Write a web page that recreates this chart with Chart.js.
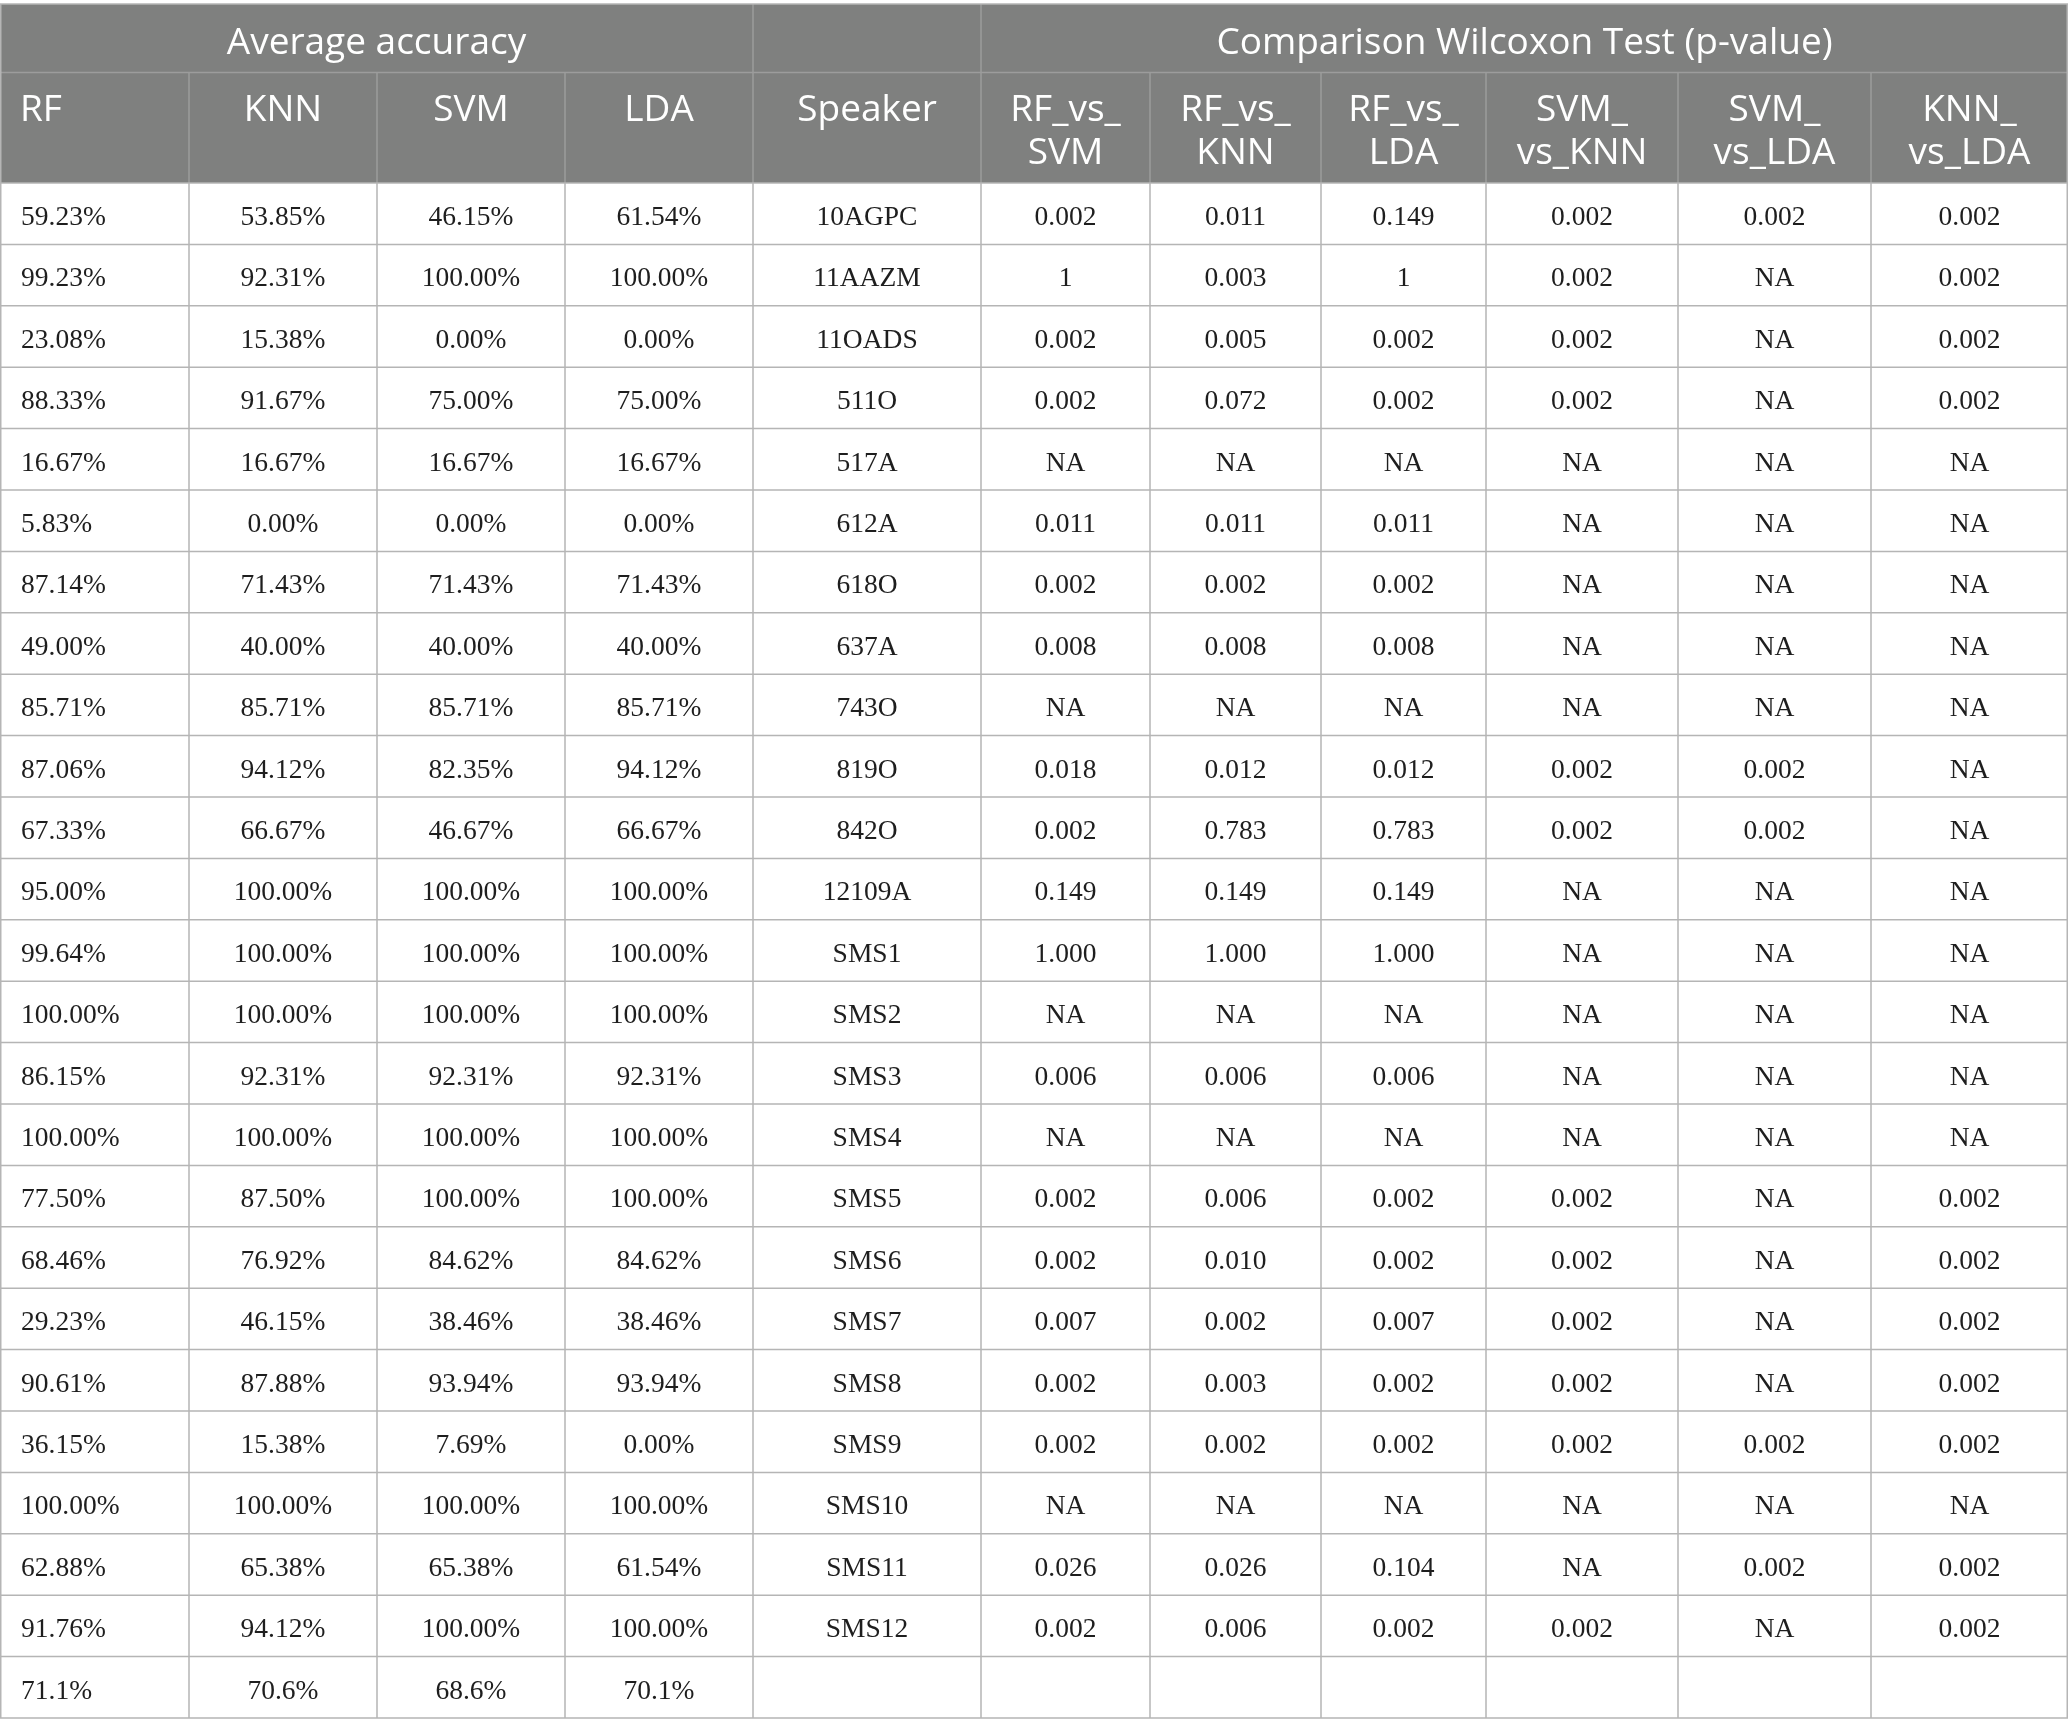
<!DOCTYPE html>
<html>
<head>
<meta charset="utf-8">
<script src="https://cdn.jsdelivr.net/npm/chart.js@4.4.1/dist/chart.umd.min.js"></script>
<style>
  html, body { margin: 0; padding: 0; background: #ffffff; }
  #table { display: block; }
</style>
</head>
<body>
<canvas id="table" width="2068" height="1735"></canvas>
<script>
// ========== DADOS ==========
const groupTitles = ["Average accuracy", "", "Comparison Wilcoxon Test (p-value)"];
const columnTitles = [
  ["RF"], ["KNN"], ["SVM"], ["LDA"], ["Speaker"],
  ["RF_vs_", "SVM"], ["RF_vs_", "KNN"], ["RF_vs_", "LDA"],
  ["SVM_", "vs_KNN"], ["SVM_", "vs_LDA"], ["KNN_", "vs_LDA"],
];

const speakers = [
  "10AGPC", "11AAZM", "11OADS", "511O", "517A", "612A", "618O", "637A",
  "743O", "819O", "842O", "12109A", "SMS1", "SMS2", "SMS3", "SMS4",
  "SMS5", "SMS6", "SMS7", "SMS8", "SMS9", "SMS10", "SMS11", "SMS12",
];

const rfAcc = [59.23, 99.23, 23.08, 88.33, 16.67, 5.83, 87.14, 49.0, 85.71, 87.06, 67.33, 95.0,
  99.64, 100, 86.15, 100, 77.5, 68.46, 29.23, 90.61, 36.15, 100, 62.88, 91.76];
const knnAcc = [53.85, 92.31, 15.38, 91.67, 16.67, 0, 71.43, 40.0, 85.71, 94.12, 66.67, 100,
  100, 100, 92.31, 100, 87.5, 76.92, 46.15, 87.88, 15.38, 100, 65.38, 94.12];
const svmAcc = [46.15, 100, 0, 75.0, 16.67, 0, 71.43, 40.0, 85.71, 82.35, 46.67, 100,
  100, 100, 92.31, 100, 100, 84.62, 38.46, 93.94, 7.69, 100, 65.38, 100];
const ldaAcc = [61.54, 100, 0, 75.0, 16.67, 0, 71.43, 40.0, 85.71, 94.12, 66.67, 100,
  100, 100, 92.31, 100, 100, 84.62, 38.46, 93.94, 0, 100, 61.54, 100];
// linha final: médias gerais
const meanAcc = [71.1, 70.6, 68.6, 70.1];

const rfVsSvm = ["0.002", "1", "0.002", "0.002", "NA", "0.011", "0.002", "0.008", "NA", "0.018", "0.002", "0.149",
  "1.000", "NA", "0.006", "NA", "0.002", "0.002", "0.007", "0.002", "0.002", "NA", "0.026", "0.002"];
const rfVsKnn = ["0.011", "0.003", "0.005", "0.072", "NA", "0.011", "0.002", "0.008", "NA", "0.012", "0.783", "0.149",
  "1.000", "NA", "0.006", "NA", "0.006", "0.010", "0.002", "0.003", "0.002", "NA", "0.026", "0.006"];
const rfVsLda = ["0.149", "1", "0.002", "0.002", "NA", "0.011", "0.002", "0.008", "NA", "0.012", "0.783", "0.149",
  "1.000", "NA", "0.006", "NA", "0.002", "0.002", "0.007", "0.002", "0.002", "NA", "0.104", "0.002"];
const svmVsKnn = ["0.002", "0.002", "0.002", "0.002", "NA", "NA", "NA", "NA", "NA", "0.002", "0.002", "NA",
  "NA", "NA", "NA", "NA", "0.002", "0.002", "0.002", "0.002", "0.002", "NA", "NA", "0.002"];
const svmVsLda = ["0.002", "NA", "NA", "NA", "NA", "NA", "NA", "NA", "NA", "0.002", "0.002", "NA",
  "NA", "NA", "NA", "NA", "NA", "NA", "NA", "NA", "0.002", "NA", "0.002", "NA"];
const knnVsLda = ["0.002", "0.002", "0.002", "0.002", "NA", "NA", "NA", "NA", "NA", "NA", "NA", "NA",
  "NA", "NA", "NA", "NA", "0.002", "0.002", "0.002", "0.002", "0.002", "NA", "0.002", "0.002"];

// ========== LAYOUT (unidades da escala) ==========
const COL_EDGES = [0, 189, 377, 565, 753, 981, 1150, 1321, 1486, 1678, 1871, 2068];
const GROUP_SPANS = [[0, 4], [4, 5], [5, 11]]; // colunas cobertas por cada título de grupo
const TOP = 4;
const HEAD1_BOTTOM = 72.5;
const HEAD2_BOTTOM = 183;
const ROW_H = 61.4;

const HEADER_BG = "#7f807f";
const HEADER_LINE = "#9c9c9c";
const GRID_LINE = "#b5b5b5";
const TEXT_DARK = "#1e1e1e";
const SANS = "'Open Sans', 'Noto Sans', sans-serif";
const SERIF = "'Liberation Serif', 'DejaVu Serif', serif";

// monta as linhas da tabela a partir dos arrays
const pct = (v, d) => v.toFixed(d) + "%";
const rows = speakers.map((s, i) => [
  pct(rfAcc[i], 2), pct(knnAcc[i], 2), pct(svmAcc[i], 2), pct(ldaAcc[i], 2), s,
  rfVsSvm[i], rfVsKnn[i], rfVsLda[i], svmVsKnn[i], svmVsLda[i], knnVsLda[i],
]);
rows.push([...meanAcc.map((v) => pct(v, 1)), "", "", "", "", "", "", ""]);

const TABLE_BOTTOM = HEAD2_BOTTOM + rows.length * ROW_H;

// ========== PLUGIN DA TABELA ==========
const tablePlugin = {
  id: "tablePlugin",
  afterDraw(chart) {
    const { ctx } = chart;
    const xs = chart.scales.x;
    const ys = chart.scales.y;
    const px = (v) => xs.getPixelForValue(v);
    const py = (v) => ys.getPixelForValue(v);

    ctx.save();

    // fundo do cabeçalho
    ctx.fillStyle = HEADER_BG;
    ctx.fillRect(px(0), py(TOP), px(2068) - px(0), py(HEAD2_BOTTOM) - py(TOP));

    // linhas do cabeçalho
    ctx.strokeStyle = HEADER_LINE;
    ctx.lineWidth = 1.5;
    ctx.beginPath();
    ctx.moveTo(px(0), py(HEAD1_BOTTOM));
    ctx.lineTo(px(2068), py(HEAD1_BOTTOM));
    GROUP_SPANS.slice(1).forEach(([a]) => {
      ctx.moveTo(px(COL_EDGES[a]), py(TOP));
      ctx.lineTo(px(COL_EDGES[a]), py(HEAD1_BOTTOM));
    });
    COL_EDGES.slice(1, -1).forEach((e) => {
      ctx.moveTo(px(e), py(HEAD1_BOTTOM));
      ctx.lineTo(px(e), py(HEAD2_BOTTOM));
    });
    ctx.stroke();

    // grade da área de dados
    ctx.strokeStyle = GRID_LINE;
    ctx.beginPath();
    ctx.moveTo(px(0), py(TOP));
    ctx.lineTo(px(2068), py(TOP));
    for (let r = 0; r <= rows.length; r++) {
      const y = py(HEAD2_BOTTOM + r * ROW_H);
      ctx.moveTo(px(0), y);
      ctx.lineTo(px(2068), y);
    }
    COL_EDGES.forEach((e, i) => {
      const x = i === 0 ? px(e) + 0.75 : i === COL_EDGES.length - 1 ? px(e) - 0.75 : px(e);
      ctx.moveTo(x, i === 0 || i === COL_EDGES.length - 1 ? py(TOP) : py(HEAD2_BOTTOM));
      ctx.lineTo(x, py(TABLE_BOTTOM));
    });
    ctx.stroke();

    // títulos de grupo
    ctx.fillStyle = "#ffffff";
    ctx.font = `37px ${SANS}`;
    ctx.textAlign = "center";
    ctx.textBaseline = "alphabetic";
    groupTitles.forEach((t, i) => {
      const [a, b] = GROUP_SPANS[i];
      const cx = (px(COL_EDGES[a]) + px(COL_EDGES[b])) / 2;
      ctx.fillText(t, cx, py(54));
    });

    // títulos das colunas
    columnTitles.forEach((lines, c) => {
      lines.forEach((line, k) => {
        const y = py(121 + k * 43);
        if (c === 0) {
          ctx.textAlign = "left";
          ctx.fillText(line, px(COL_EDGES[c] + 20), y);
        } else {
          ctx.textAlign = "center";
          ctx.fillText(line, (px(COL_EDGES[c]) + px(COL_EDGES[c + 1])) / 2, y);
        }
      });
    });

    // células
    ctx.fillStyle = TEXT_DARK;
    ctx.font = `27.5px ${SERIF}`;
    rows.forEach((row, r) => {
      const y = py(HEAD2_BOTTOM + r * ROW_H + 42);
      row.forEach((cell, c) => {
        if (!cell) return;
        if (c === 0) {
          ctx.textAlign = "left";
          ctx.fillText(cell, px(COL_EDGES[c] + 21), y);
        } else {
          ctx.textAlign = "center";
          ctx.fillText(cell, (px(COL_EDGES[c]) + px(COL_EDGES[c + 1])) / 2, y);
        }
      });
    });

    ctx.restore();
  },
};

// ========== GRÁFICO ==========
const tableChart = new Chart(document.getElementById("table").getContext("2d"), {
  type: "scatter",
  data: { datasets: [{ data: [], pointRadius: 0 }] },
  options: {
    responsive: false,
    animation: false,
    devicePixelRatio: 1,
    layout: { padding: 0 },
    events: [],
    plugins: {
      legend: { display: false },
      tooltip: { enabled: false },
    },
    scales: {
      x: { type: "linear", min: 0, max: 2068, display: false },
      y: { type: "linear", min: 0, max: 1735, reverse: true, display: false },
    },
  },
  plugins: [tablePlugin],
});
</script>
</body>
</html>
